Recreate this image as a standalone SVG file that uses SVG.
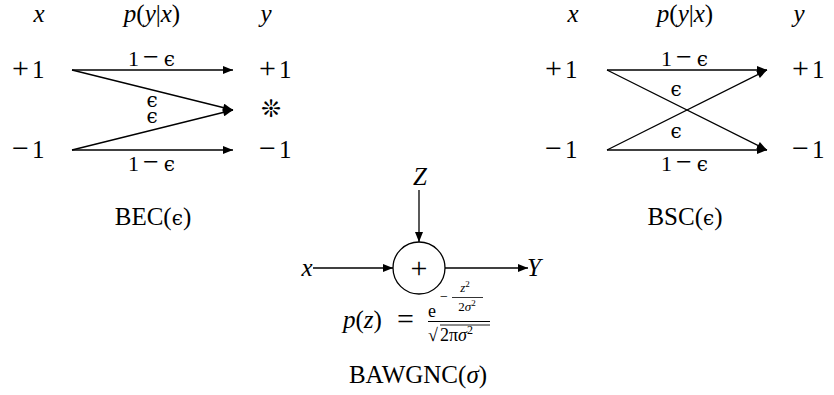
<svg xmlns="http://www.w3.org/2000/svg" width="834" height="395" viewBox="0 0 834 395">
<defs>
<marker id="ah" viewBox="0 0 10 8" refX="10" refY="4" markerWidth="11" markerHeight="8" markerUnits="userSpaceOnUse" orient="auto">
<path d="M0,0 L10,4 L0,8 Z" fill="#000"/>
</marker>
<style>
text{font-family:"Liberation Serif","DejaVu Serif",serif;fill:#000}
.m{font-size:25px}
.l{font-size:22px}
.i{font-style:italic}
.op{font-size:30px}
.lo{font-size:28px}
.e{font-size:20px;font-family:"DejaVu Serif","Liberation Serif",serif}
line.c{stroke:#000;stroke-width:1.3;marker-end:url(#ah)}
</style>
</defs>
<rect width="834" height="395" fill="#fff"/>

<g id="bec">
<text class="m i" x="39" y="22" text-anchor="middle">x</text>
<text class="m" x="152" y="22" text-anchor="middle"><tspan class="i">p</tspan>(<tspan class="i">y</tspan>|<tspan class="i">x</tspan>)</text>
<text class="m i" x="266" y="22" text-anchor="middle">y</text>
<text class="m" x="12" y="78"><tspan class="op">+</tspan><tspan dx="3">1</tspan></text>
<text class="m" x="12" y="158"><tspan class="op">−</tspan><tspan dx="3">1</tspan></text>
<text class="m" x="259" y="78"><tspan class="op">+</tspan><tspan dx="3">1</tspan></text>
<text class="m" x="259" y="158"><tspan class="op">−</tspan><tspan dx="3">1</tspan></text>
<text x="271" y="117" text-anchor="middle" style="font-family:'DejaVu Sans',sans-serif;font-size:24px;font-weight:bold">❊</text>
<text class="l" x="128" y="66">1<tspan class="lo" dx="4">−</tspan><tspan class="e" dx="5">ϵ</tspan></text>
<text class="l" x="128" y="171">1<tspan class="lo" dx="4">−</tspan><tspan class="e" dx="5">ϵ</tspan></text>
<text class="e" x="152" y="107" text-anchor="middle">ϵ</text>
<text class="e" x="152" y="123" text-anchor="middle">ϵ</text>
<text class="m" x="153" y="225" text-anchor="middle">BEC(<tspan class="e">ϵ</tspan>)</text>
</g>

<g id="bsc">
<text class="m i" x="573" y="22" text-anchor="middle">x</text>
<text class="m" x="685" y="22" text-anchor="middle"><tspan class="i">p</tspan>(<tspan class="i">y</tspan>|<tspan class="i">x</tspan>)</text>
<text class="m i" x="799" y="22" text-anchor="middle">y</text>
<text class="m" x="545" y="78"><tspan class="op">+</tspan><tspan dx="3">1</tspan></text>
<text class="m" x="545" y="158"><tspan class="op">−</tspan><tspan dx="3">1</tspan></text>
<text class="m" x="792" y="78"><tspan class="op">+</tspan><tspan dx="3">1</tspan></text>
<text class="m" x="792" y="158"><tspan class="op">−</tspan><tspan dx="3">1</tspan></text>
<text class="l" x="661" y="66">1<tspan class="lo" dx="4">−</tspan><tspan class="e" dx="5">ϵ</tspan></text>
<text class="l" x="661" y="171">1<tspan class="lo" dx="4">−</tspan><tspan class="e" dx="5">ϵ</tspan></text>
<text class="e" x="676" y="96" text-anchor="middle">ϵ</text>
<text class="e" x="676" y="138" text-anchor="middle">ϵ</text>
<text class="m" x="685" y="225" text-anchor="middle">BSC(<tspan class="e">ϵ</tspan>)</text>
</g>

<g id="bawgnc">
<text class="m i" x="420" y="185" text-anchor="middle">Z</text>
<text class="m i" x="307" y="276" text-anchor="middle">x</text>
<text class="m i" x="527" y="276">Y</text>
<circle cx="419" cy="268" r="26" fill="none" stroke="#000" stroke-width="1.3"/>
<text class="op" x="419" y="278" text-anchor="middle">+</text>
<text class="m" x="343" y="328"><tspan class="i">p</tspan>(<tspan class="i">z</tspan>)</text>
<text class="op" x="397" y="329">=</text>
<text x="428" y="317" style="font-size:18px">e</text>
<text x="440" y="301" style="font-size:14px">−</text>
<text x="465" y="292" text-anchor="middle" style="font-size:13px;font-style:italic">z<tspan dy="-5" style="font-size:9px;font-style:normal">2</tspan></text>
<line x1="452" y1="297.5" x2="483" y2="297.5" stroke="#000" stroke-width="0.8"/>
<text x="467" y="311" text-anchor="middle" style="font-size:13px">2<tspan class="i">σ</tspan><tspan dy="-5" style="font-size:9px">2</tspan></text>
<line x1="428" y1="321.5" x2="490" y2="321.5" stroke="#000" stroke-width="1"/>
<text x="428" y="341" style="font-size:18px">√</text>
<line x1="440" y1="325" x2="490" y2="325" stroke="#000" stroke-width="0.9"/>
<text x="440" y="341" style="font-size:18px">2π<tspan class="i">σ</tspan><tspan dy="-7" style="font-size:12px">2</tspan></text>
<text class="m" x="418" y="383" text-anchor="middle">BAWGNC(<tspan class="i">σ</tspan>)</text>
</g>

<g id="connectors">
<line class="c" x1="72" y1="70" x2="233" y2="70"/>
<line class="c" x1="72" y1="70" x2="233" y2="110"/>
<line class="c" x1="72" y1="150" x2="233" y2="110"/>
<line class="c" x1="72" y1="150" x2="233" y2="150"/>
<line class="c" x1="607" y1="70" x2="767" y2="70"/>
<line class="c" x1="607" y1="70" x2="767" y2="150"/>
<line class="c" x1="607" y1="150" x2="767" y2="70"/>
<line class="c" x1="607" y1="150" x2="767" y2="150"/>
<line class="c" x1="419" y1="190" x2="419" y2="242"/>
<line class="c" x1="313" y1="268" x2="393" y2="268"/>
<line class="c" x1="445" y1="268" x2="528" y2="268"/>
</g>
</svg>
